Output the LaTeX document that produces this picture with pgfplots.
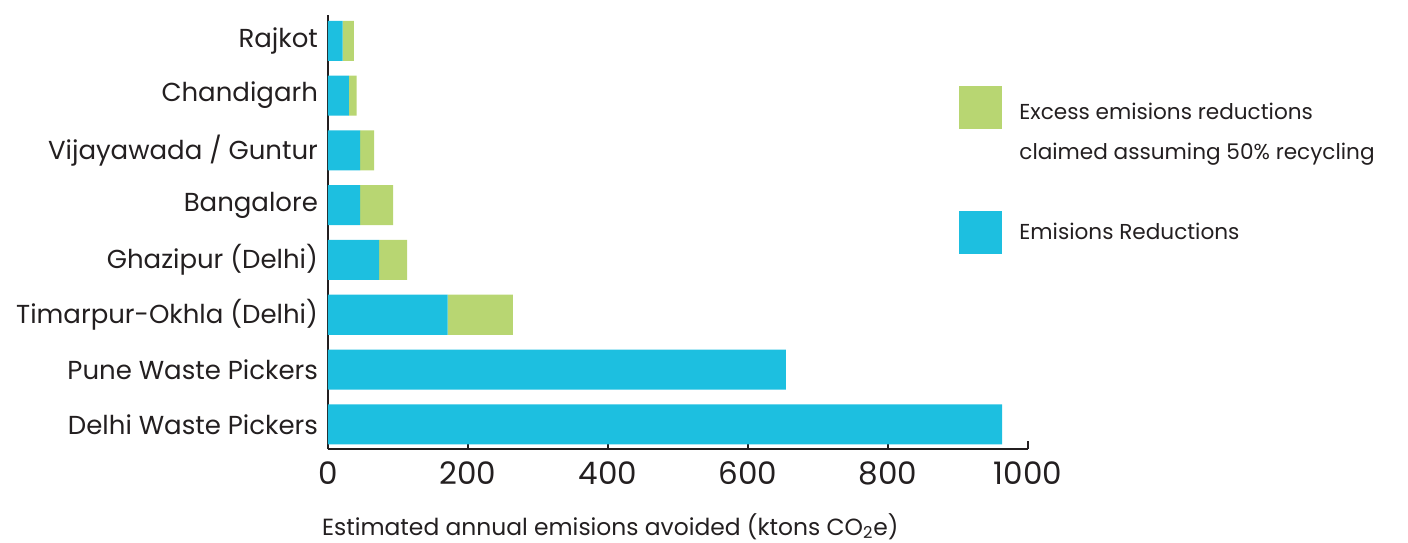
\documentclass[border=0pt]{standalone}
\usepackage{pgfplots}
\pgfplotsset{compat=1.18}
\usepackage{fontspec}
\setmainfont{Poppins}
\definecolor{barblue}{HTML}{1DBFE0}
\definecolor{bargreen}{HTML}{B8D672}
\definecolor{ink}{HTML}{231F20}
\begin{document}
\begin{tikzpicture}
\useasboundingbox (-164pt,-46.5pt) rectangle (540pt,224.5pt);
\begin{axis}[
  at={(0,0)}, anchor=south west,
  scale only axis, width=350pt, height=217pt,
  xbar stacked, bar width=0.73,
  xmin=0, xmax=1000, ymin=-0.45, ymax=7.47,
  axis x line=bottom, axis y line=left,
  axis line style={-, ink, line width=0.6pt},
  xtick={0,200,...,1000},
  tick align=inside, major tick length=4pt,
  xtick style={ink, line width=0.6pt},
  ytick={0,...,7},
  yticklabels={Delhi Waste Pickers, Pune Waste Pickers, Timarpur-Okhla (Delhi), Ghazipur (Delhi), Bangalore, Vijayawada / Guntur, Chandigarh, Rajkot},
  ytick style={draw=none},
  yticklabel style={font=\fontsize{13}{15}\selectfont, text=ink, xshift=-1.5pt},
  xticklabel style={font=\fontsize{15.5}{17}\selectfont, text=ink, yshift=-3pt},
  /pgf/number format/assume math mode=true,
  /pgf/number format/1000 sep={},
  xlabel={Estimated annual emisions avoided (ktons CO\textsubscript{2}e)},
  xlabel style={at={(rel axis cs:0,0)}, anchor=base west, yshift=-43pt, xshift=-6.5pt, font=\fontsize{11.7}{14}\selectfont, text=ink},
  legend cell align=left,
  legend style={at={(rel axis cs:0,1)}, anchor=north west, xshift=315.5pt, yshift=-38.5pt,
    draw=none, fill=none, inner sep=0pt, row sep=0pt,
    font=\fontsize{10.8}{13}\selectfont, text=ink,
    nodes={minimum height=20pt, inner ysep=0pt}},
]
\addplot[fill=barblue, draw=none, forget plot] coordinates {
  (963,0) (654,1) (171,2) (73,3) (46,4) (46,5) (30,6) (21,7)};
\addplot[fill=bargreen, draw=none, forget plot] coordinates {
  (0,0) (0,1) (93,2) (40,3) (47,4) (20,5) (11,6) (16,7)};
\addplot[fill=none, draw=black, line width=0.6pt, forget plot] coordinates {(0,0)};
\addlegendimage{legend image code/.code={\fill[bargreen, draw=none, overlay] (0pt,-8.5pt) rectangle (21.5pt,13pt); \path[draw=none, fill=none] (0pt,0pt) rectangle (28pt,0pt);}}
\addlegendentry{Excess emisions reductions}
\addlegendimage{empty legend}
\addlegendentry{claimed assuming 50\% recycling}
\addlegendimage{empty legend}
\addlegendentry{}
\addlegendimage{legend image code/.code={\fill[barblue, draw=none, overlay] (0pt,-10.75pt) rectangle (21.5pt,10.75pt); \path[draw=none, fill=none] (0pt,0pt) rectangle (28pt,0pt);}}
\addlegendentry{Emisions Reductions}
\end{axis}
\end{tikzpicture}
\end{document}
